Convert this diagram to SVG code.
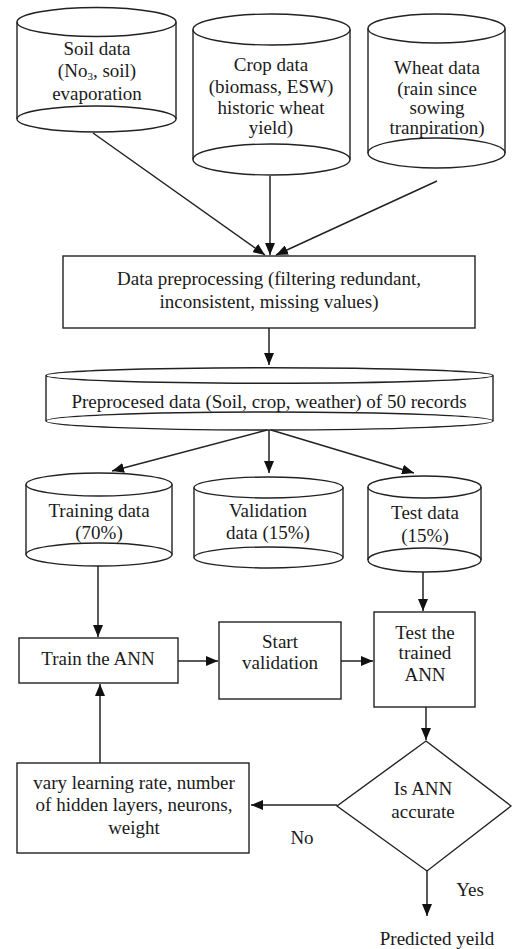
<svg xmlns="http://www.w3.org/2000/svg" width="512" height="949" viewBox="0 0 512 949">
<style>
.s{fill:none;stroke:#222;stroke-width:1.4}
.b{fill:#fff;stroke:#222;stroke-width:1.4}
.c{fill:none;stroke:#222;stroke-width:1.5}
text{font-family:"Liberation Serif","Times New Roman",serif;font-size:19px;fill:#1a1a1a;text-anchor:middle}
</style>
<defs>
<marker id="ah" markerUnits="userSpaceOnUse" markerWidth="12" markerHeight="10" refX="12" refY="5" orient="auto">
<path d="M0,0 L12,5 L0,10 z" fill="#111"/>
</marker>
</defs>
<rect width="512" height="949" fill="#fff"/>
<g id="connectors">
<path class="c" d="M93,133 L265,255" marker-end="url(#ah)"/>
<path class="c" d="M270,176 L270,255" marker-end="url(#ah)"/>
<path class="c" d="M437,181 L276,255" marker-end="url(#ah)"/>
<path class="c" d="M269,328 L269,365" marker-end="url(#ah)"/>
<path class="c" d="M267,430 L112,471" marker-end="url(#ah)"/>
<path class="c" d="M269,430 L269,473" marker-end="url(#ah)"/>
<path class="c" d="M271,430 L414,473" marker-end="url(#ah)"/>
<path class="c" d="M98,566 L98,637" marker-end="url(#ah)"/>
<path class="c" d="M423,572 L423,611" marker-end="url(#ah)"/>
<path class="c" d="M178,661 L218,661" marker-end="url(#ah)"/>
<path class="c" d="M341,661 L373,661" marker-end="url(#ah)"/>
<path class="c" d="M426,707 L426,740" marker-end="url(#ah)"/>
<path class="c" d="M100,763 L100,684" marker-end="url(#ah)"/>
<path class="c" d="M337,805 L251,805" marker-end="url(#ah)"/>
<path class="c" d="M427,871 L427,916" marker-end="url(#ah)"/>
</g>
<g id="soil">
<path class="s" d="M17,22 L17,119 M176,22 L176,119"/>
<ellipse class="s" cx="96.5" cy="22" rx="79.5" ry="14.5"/>
<ellipse class="s" cx="96.5" cy="119" rx="79.5" ry="13"/>
<text x="97" y="55">Soil data</text>
<text x="97" y="77">(No<tspan font-size="11" dy="2.5">3</tspan><tspan dy="-2.5">, soil)</tspan></text>
<text x="97" y="100">evaporation</text>
</g>
<g id="crop">
<path class="s" d="M193,29.5 L193,159.5 M350,29.5 L350,159.5"/>
<ellipse class="s" cx="271.5" cy="29.5" rx="78.5" ry="15.5"/>
<ellipse class="s" cx="271.5" cy="159.5" rx="78.5" ry="15.5"/>
<text x="271" y="71">Crop data</text>
<text x="271" y="93">(biomass, ESW)</text>
<text x="271" y="114">historic wheat</text>
<text x="271" y="134">yield)</text>
</g>
<g id="wheat">
<path class="s" d="M368,28.5 L368,153 M505,28.5 L505,153"/>
<ellipse class="s" cx="436.5" cy="28.5" rx="68.5" ry="14.5"/>
<ellipse class="s" cx="436.5" cy="153" rx="68.5" ry="15"/>
<text x="437" y="74">Wheat data</text>
<text x="437" y="95">(rain since</text>
<text x="437" y="114">sowing</text>
<text x="437" y="134">tranpiration)</text>
</g>
<g id="preprocessing">
<rect class="b" x="63" y="256" width="412" height="72"/>
<text x="269" y="285">Data preprocessing (filtering redundant,</text>
<text x="269" y="308">inconsistent, missing values)</text>
</g>
<g id="preprocessed">
<path class="s" d="M46,375.5 L46,421 M493,375.5 L493,421"/>
<ellipse class="s" cx="269.5" cy="375.5" rx="223.5" ry="7.7"/>
<ellipse class="s" cx="269.5" cy="421" rx="223.5" ry="9"/>
<text x="269" y="408">Preprocesed data (Soil, crop, weather) of 50 records</text>
</g>
<g id="training">
<path class="s" d="M26,484.5 L26,554.5 M172,484.5 L172,554.5"/>
<ellipse class="s" cx="99" cy="484.5" rx="73" ry="11.5"/>
<ellipse class="s" cx="99" cy="554.5" rx="73" ry="11.5"/>
<text x="99" y="517">Training data</text>
<text x="99" y="539">(70%)</text>
</g>
<g id="validation">
<path class="s" d="M194,487.5 L194,557.5 M343,487.5 L343,557.5"/>
<ellipse class="s" cx="268.5" cy="487.5" rx="74.5" ry="10.5"/>
<ellipse class="s" cx="268.5" cy="557.5" rx="74.5" ry="10.5"/>
<text x="268" y="517">Validation</text>
<text x="268" y="539">data (15%)</text>
</g>
<g id="test">
<path class="s" d="M368,487 L368,560 M481,487 L481,560"/>
<ellipse class="s" cx="424.5" cy="487" rx="56.5" ry="11"/>
<ellipse class="s" cx="424.5" cy="560" rx="56.5" ry="12"/>
<text x="425" y="519">Test data</text>
<text x="425" y="542">(15%)</text>
</g>
<g id="train">
<rect class="b" x="19" y="638" width="159" height="45"/>
<text x="98" y="665">Train the ANN</text>
</g>
<g id="start">
<rect class="b" x="219" y="622" width="122" height="77"/>
<text x="280" y="648">Start</text>
<text x="280" y="669">validation</text>
</g>
<g id="testann">
<rect class="b" x="374" y="612" width="101" height="95"/>
<text x="425" y="639">Test the</text>
<text x="425" y="659">trained</text>
<text x="425" y="681">ANN</text>
</g>
<g id="vary">
<rect class="b" x="17" y="763" width="232" height="90"/>
<text x="134" y="789">vary learning rate, number</text>
<text x="134" y="811">of hidden layers, neurons,</text>
<text x="134" y="834">weight</text>
</g>
<g id="decision">
<polygon class="b" points="426,741 511,806 427,871 337,806"/>
<text x="423" y="795">Is ANN</text>
<text x="423" y="818">accurate</text>
</g>
<g id="labels">
<text x="302" y="844">No</text>
<text x="470" y="896">Yes</text>
<text x="437" y="945">Predicted yeild</text>
</g>
</svg>
